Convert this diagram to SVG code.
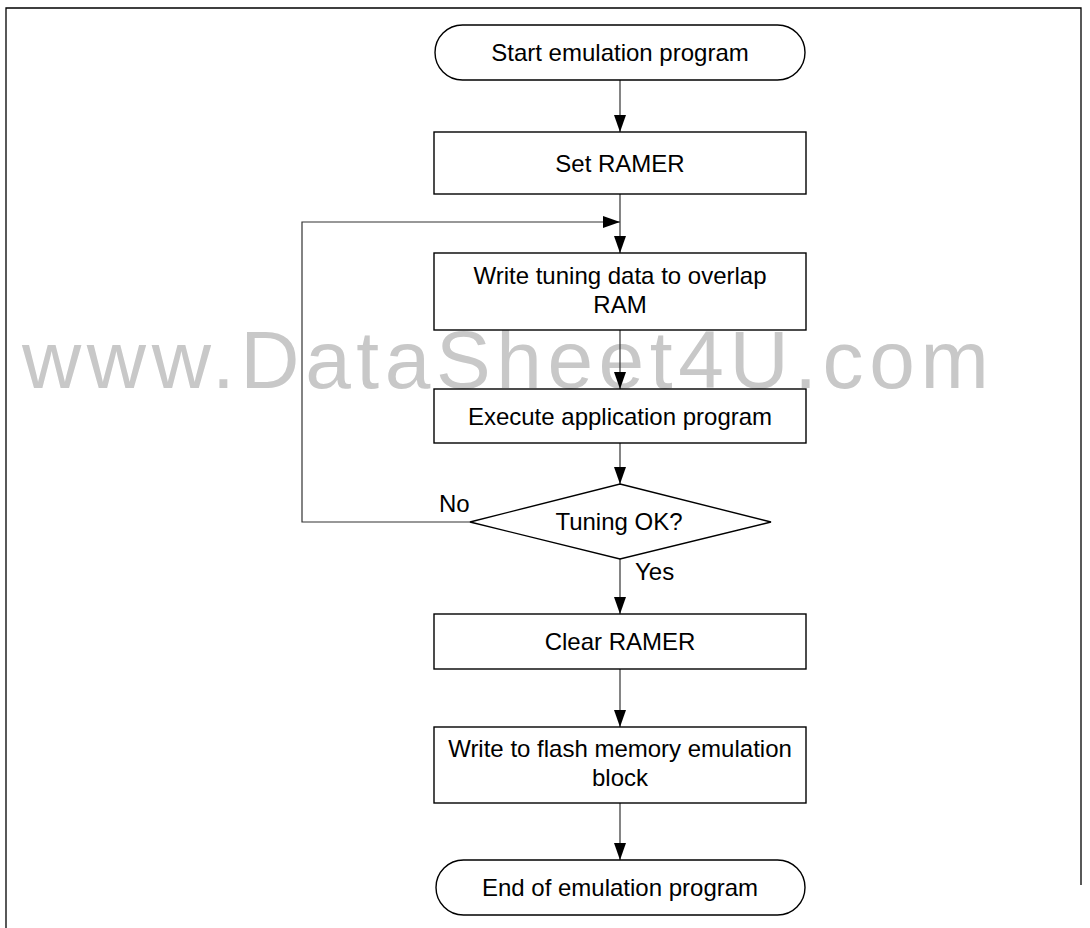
<svg xmlns="http://www.w3.org/2000/svg" width="1090" height="928" viewBox="0 0 1090 928">
  <defs>
    <marker id="arr" markerUnits="userSpaceOnUse" markerWidth="18" markerHeight="12" refX="17" refY="6" orient="auto">
      <path d="M0,0 L17,6 L0,12 Z" fill="#000"/>
    </marker>
    <style>
      .shape { fill: #fff; stroke: #000; stroke-width: 1.4; }
      .conn { fill: none; stroke: #333; stroke-width: 1.2; }
      .lbl { font-family: "Liberation Sans", Arial, sans-serif; font-size: 24px; fill: #000; text-anchor: middle; }
      .side { font-family: "Liberation Sans", Arial, sans-serif; font-size: 24px; fill: #000; }
      .wm { font-family: "Liberation Sans", Arial, sans-serif; font-size: 82px; fill: #c8c8c8; letter-spacing: 5.6px; }
      .frame { fill: none; stroke: #000; stroke-width: 1.3; }
    </style>
  </defs>
  <rect x="0" y="0" width="1090" height="928" fill="#fff"/>
  <path class="frame" d="M6,928 L6,8 L1081,8 L1081,885"/>
  <text class="wm" x="22" y="388">www.DataSheet4U.com</text>

  <g id="connectors">
    <line class="conn" x1="620" y1="80" x2="620" y2="132" marker-end="url(#arr)"/>
    <line class="conn" x1="620" y1="194" x2="620" y2="253" marker-end="url(#arr)"/>
    <polyline class="conn" points="470,522 302,522 302,222 620,222" marker-end="url(#arr)"/>
    <line class="conn" x1="620" y1="330" x2="620" y2="389" marker-end="url(#arr)"/>
    <line class="conn" x1="620" y1="443" x2="620" y2="484" marker-end="url(#arr)"/>
    <line class="conn" x1="620" y1="559" x2="620" y2="614" marker-end="url(#arr)"/>
    <line class="conn" x1="620" y1="669" x2="620" y2="727" marker-end="url(#arr)"/>
    <line class="conn" x1="620" y1="803" x2="620" y2="860" marker-end="url(#arr)"/>
    <text class="side" x="439" y="512">No</text>
    <text class="side" x="635" y="580">Yes</text>
  </g>

  <g id="start">
    <rect class="shape" x="435" y="25" width="370" height="55" rx="27.5" ry="27.5"/>
    <text class="lbl" x="620" y="61">Start emulation program</text>
  </g>
  <g id="set-ramer">
    <rect class="shape" x="434" y="132" width="372" height="62"/>
    <text class="lbl" x="620" y="171.5">Set RAMER</text>
  </g>
  <g id="write-tuning">
    <rect class="shape" x="434" y="253" width="372" height="77"/>
    <text class="lbl" x="620" y="284">Write tuning data to overlap</text>
    <text class="lbl" x="620" y="313">RAM</text>
  </g>
  <g id="execute">
    <rect class="shape" x="434" y="389" width="372" height="54"/>
    <text class="lbl" x="620" y="424.5">Execute application program</text>
  </g>
  <g id="tuning-ok">
    <polygon class="shape" points="620,484 771,522 620,559 470,522"/>
    <text class="lbl" x="619" y="530">Tuning OK?</text>
  </g>
  <g id="clear-ramer">
    <rect class="shape" x="434" y="614" width="372" height="55"/>
    <text class="lbl" x="620" y="650">Clear RAMER</text>
  </g>
  <g id="write-flash">
    <rect class="shape" x="434" y="727" width="372" height="76"/>
    <text class="lbl" x="620" y="757">Write to flash memory emulation</text>
    <text class="lbl" x="620" y="786">block</text>
  </g>
  <g id="end">
    <rect class="shape" x="436" y="860" width="369" height="55" rx="27.5" ry="27.5"/>
    <text class="lbl" x="620" y="896">End of emulation program</text>
  </g>
</svg>
